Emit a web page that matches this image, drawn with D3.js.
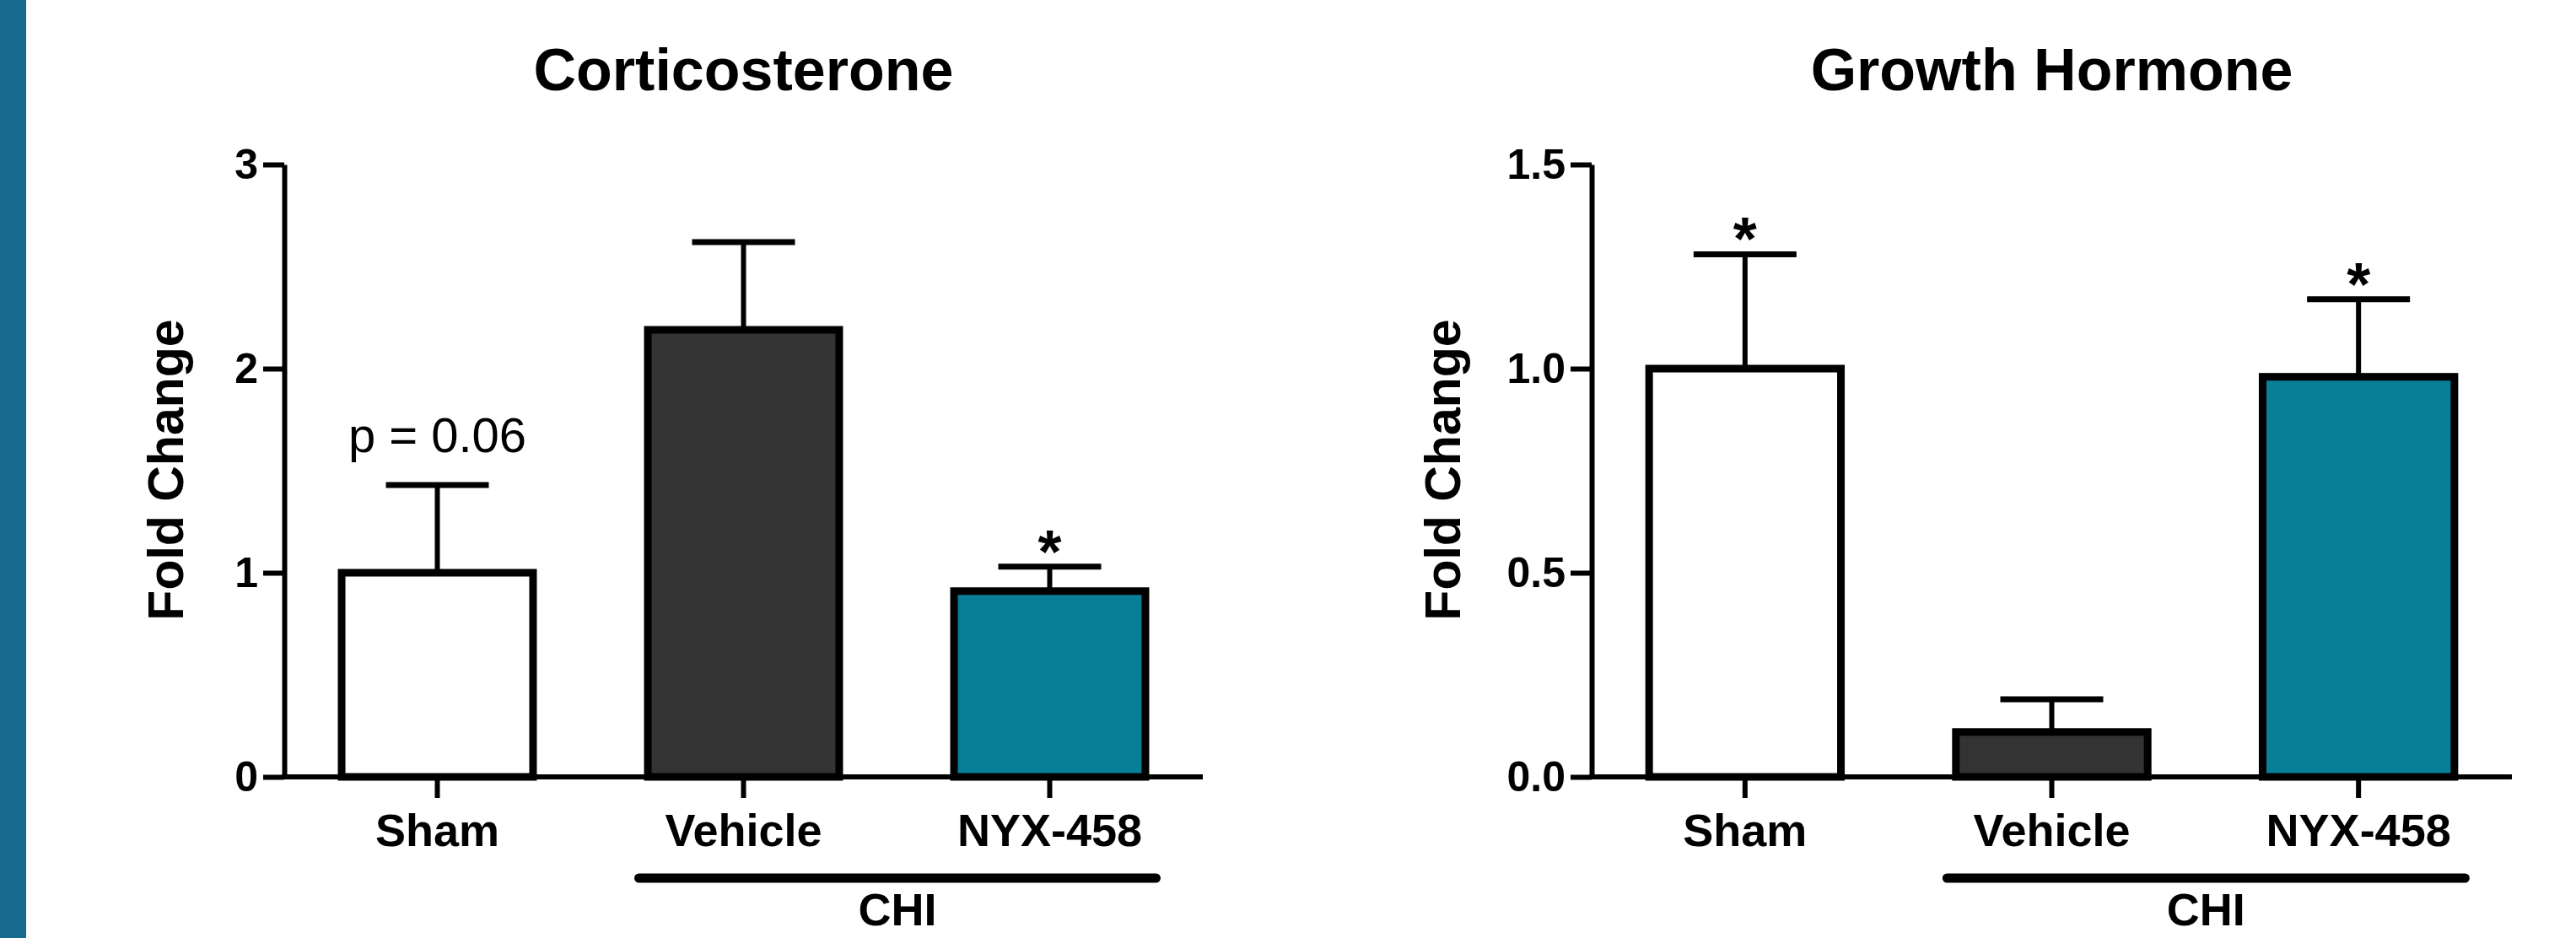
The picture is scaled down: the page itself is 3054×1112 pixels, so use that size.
<!DOCTYPE html>
<html lang="en">
<head>
<meta charset="UTF-8">
<title>Corticosterone and Growth Hormone</title>
<script src="https://d3js.org/d3.v7.min.js"></script>
<style>
  html, body { margin: 0; padding: 0; background: #fff; }
  svg { display: block; }
  text { font-family: "Liberation Sans", Arial, sans-serif; fill: #000; }
  .axis path, .axis line { stroke: #000; stroke-width: 6; }
</style>
</head>
<body>
<svg width="3054" height="1112"></svg>
<script>
// groups and bar colours
const groups = ["Sham", "Vehicle", "NYX-458"];
const fills = ["#ffffff", "#333333", "#077f96"];

// corticosterone: means and top of error bar
const corticoMean = [1.0, 2.19, 0.91];
const corticoUpper = [1.43, 2.62, 1.03];
const corticoTicks = [0, 1, 2, 3];
const corticoMarks = ["p = 0.06", "", "*"];

// growth hormone
const ghMean = [1.0, 0.11, 0.98];
const ghUpper = [1.28, 0.19, 1.17];
const ghTicks = [0, 0.5, 1.0, 1.5];
const ghMarks = ["*", "", "*"];

const svg = d3.select("svg");

// blue stripe on the left edge
svg.append("rect").attr("x", 0).attr("y", 0).attr("width", 31).attr("height", 1112)
  .attr("fill", "#17698d");

function panel(o) {
  const g = svg.append("g");

  const x = d3.scaleBand().domain(groups).range([o.x0, o.x1])
    .paddingInner(0.35).paddingOuter(0.175);
  const y = d3.scaleLinear().domain([0, o.max]).range([921, 195]);
  const bw = x.bandwidth();
  const cx = d => x(d) + bw / 2;

  // title
  g.append("text").attr("x", (o.x0 + o.x1) / 2).attr("y", 107)
    .attr("text-anchor", "middle").attr("font-size", 70).attr("font-weight", "bold")
    .text(o.title);

  // y label
  g.append("text")
    .attr("transform", `translate(${o.labelX},557) rotate(-90)`)
    .attr("text-anchor", "middle").attr("font-size", 59).attr("font-weight", "bold")
    .attr("dy", "0.35em")
    .text("Fold Change");

  // error bars
  groups.forEach((d, i) => {
    g.append("line").attr("x1", cx(d)).attr("x2", cx(d))
      .attr("y1", y(o.mean[i])).attr("y2", y(o.upper[i]))
      .attr("stroke", "#000").attr("stroke-width", 6);
    g.append("line").attr("x1", cx(d) - 61).attr("x2", cx(d) + 61)
      .attr("y1", y(o.upper[i])).attr("y2", y(o.upper[i]))
      .attr("stroke", "#000").attr("stroke-width", 7);
  });

  // bars
  g.selectAll("rect.bar").data(groups).join("rect")
    .attr("class", "bar")
    .attr("x", d => x(d) + 4.5)
    .attr("width", bw - 9)
    .attr("y", (d, i) => y(o.mean[i]))
    .attr("height", (d, i) => y(0) - y(o.mean[i]))
    .attr("fill", (d, i) => fills[i])
    .attr("stroke", "#000").attr("stroke-width", 9);

  // significance marks
  groups.forEach((d, i) => {
    const m = o.marks[i];
    if (!m) return;
    if (m === "*") {
      g.append("text").attr("x", cx(d)).attr("y", y(o.upper[i]) + 7)
        .attr("text-anchor", "middle").attr("font-size", 72).attr("font-weight", "bold")
        .text("*");
    } else {
      g.append("text").attr("x", cx(d)).attr("y", 536)
        .attr("text-anchor", "middle").attr("font-size", 58)
        .text(m);
    }
  });

  // axes
  const ya = g.append("g").attr("class", "axis")
    .attr("transform", `translate(${o.x0},0)`)
    .call(d3.axisLeft(y).tickValues(o.ticks).tickFormat(o.fmt)
      .tickSize(25).tickSizeOuter(0).tickPadding(6));
  ya.selectAll("text").attr("font-size", 50).attr("font-weight", "bold")
    .attr("font-family", "Liberation Sans, Arial, sans-serif").attr("fill", "#000");

  const xa = g.append("g").attr("class", "axis")
    .attr("transform", `translate(0,921)`)
    .call(d3.axisBottom(x).tickSize(25).tickSizeOuter(0));
  xa.select(".domain").attr("d", `M${o.x0 - 3},0H${o.x1}`);
  xa.selectAll("text").attr("y", 82).attr("dy", 0)
    .attr("font-size", 54).attr("font-weight", "bold")
    .attr("font-family", "Liberation Sans, Arial, sans-serif").attr("fill", "#000");

  // CHI bracket under Vehicle and NYX-458
  const bx0 = x("Vehicle") - 6, bx1 = x("NYX-458") + bw + 8;
  g.append("line").attr("x1", bx0).attr("x2", bx1).attr("y1", 1041).attr("y2", 1041)
    .attr("stroke", "#000").attr("stroke-width", 11).attr("stroke-linecap", "round");
  g.append("text").attr("x", (bx0 + bx1) / 2).attr("y", 1097)
    .attr("text-anchor", "middle").attr("font-size", 54).attr("font-weight", "bold")
    .text("CHI");
}

panel({
  title: "Corticosterone", x0: 337, x1: 1426, max: 3, labelX: 196,
  mean: corticoMean, upper: corticoUpper, ticks: corticoTicks,
  fmt: d3.format("d"), marks: corticoMarks
});

panel({
  title: "Growth Hormone", x0: 1887, x1: 2978, max: 1.5, labelX: 1710,
  mean: ghMean, upper: ghUpper, ticks: ghTicks,
  fmt: d3.format(".1f"), marks: ghMarks
});
</script>
</body>
</html>
